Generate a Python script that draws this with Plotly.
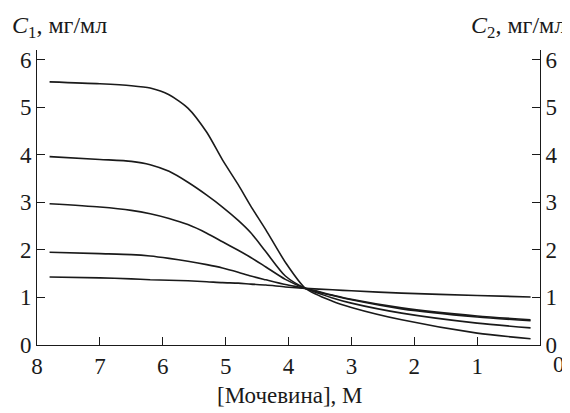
import plotly.graph_objects as go

urea = [7.8, 7.0, 6.5, 6.2, 5.9, 5.6, 5.3, 5.05, 4.8, 4.6, 4.36, 4.05, 3.73, 3.3, 3.0, 2.2, 1.0, 0.15]
c_a = [5.53, 5.49, 5.45, 5.40, 5.26, 4.98, 4.47, 3.89, 3.37, 2.92, 2.42, 1.74, 1.19, 0.92, 0.79, 0.53, 0.25, 0.13]
c_b = [3.96, 3.90, 3.86, 3.79, 3.65, 3.42, 3.15, 2.90, 2.62, 2.36, 1.96, 1.45, 1.19, 0.99, 0.88, 0.67, 0.46, 0.36]
c_c = [2.97, 2.90, 2.83, 2.76, 2.66, 2.53, 2.35, 2.17, 1.99, 1.84, 1.64, 1.38, 1.19, 1.04, 0.95, 0.76, 0.59, 0.51]
c_d = [1.95, 1.92, 1.90, 1.87, 1.82, 1.76, 1.69, 1.62, 1.53, 1.45, 1.37, 1.27, 1.19, 1.05, 0.96, 0.78, 0.61, 0.53]
c_e = [1.43, 1.41, 1.39, 1.37, 1.36, 1.35, 1.33, 1.31, 1.30, 1.28, 1.26, 1.22, 1.19, 1.16, 1.14, 1.09, 1.04, 1.01]

x_ticks = [8, 7, 6, 5, 4, 3, 2, 1]
y_ticks = [0, 1, 2, 3, 4, 5, 6]

FONT = "Liberation Serif"
INK = "#1a1a1a"

fig = go.Figure()
series = [c_a, c_b, c_c, c_d, c_e]
for i, ys in enumerate(series):
    fig.add_trace(go.Scatter(x=urea, y=ys, mode="lines",
                             yaxis="y2" if i == len(series) - 1 else "y",
                             line=dict(color=INK, width=1.6, shape="spline", smoothing=0.7),
                             showlegend=False, hoverinfo="skip"))

axis_common = dict(showgrid=False, zeroline=False, showline=True, linecolor=INK, linewidth=1,
                   ticks="inside", ticklen=8, tickwidth=1, tickcolor=INK,
                   tickfont=dict(family=FONT, size=23, color=INK))

fig.update_layout(
    width=562, height=405,
    margin=dict(l=28, r=29, t=42, b=68),
    paper_bgcolor="white", plot_bgcolor="white",
    font=dict(family=FONT, color=INK),
    xaxis=dict(range=[8, 0], tickvals=x_ticks, ticktext=[str(v) for v in x_ticks],
               **axis_common),
    yaxis=dict(range=[0, 6.2], tickvals=y_ticks, side="left", **axis_common),
    yaxis2=dict(range=[0, 6.2], tickvals=y_ticks, side="right", overlaying="y",
                anchor="x", **axis_common),
    annotations=[
        dict(text="<i>C</i><sub>1</sub>, мг/мл", xref="paper", yref="paper",
             x=-0.054, y=1.0, yshift=23, xanchor="left", yanchor="middle", showarrow=False,
             font=dict(family=FONT, size=24, color=INK)),
        dict(text="<i>C</i><sub>2</sub>, мг/мл", xref="paper", yref="paper",
             x=1.055, y=1.0, yshift=23, xanchor="right", yanchor="middle", showarrow=False,
             font=dict(family=FONT, size=24, color=INK)),
        dict(text="[Мочевина], М", xref="paper", yref="paper",
             x=0.503, y=0, yshift=-50, xanchor="center", yanchor="middle", showarrow=False,
             font=dict(family=FONT, size=23, color=INK)),
        dict(text="0", xref="x", yref="paper", x=0, y=0, xshift=19, yshift=-19,
             xanchor="center", yanchor="middle", showarrow=False,
             font=dict(family=FONT, size=23, color=INK)),
    ],
)

fig.write_html("out.html")
